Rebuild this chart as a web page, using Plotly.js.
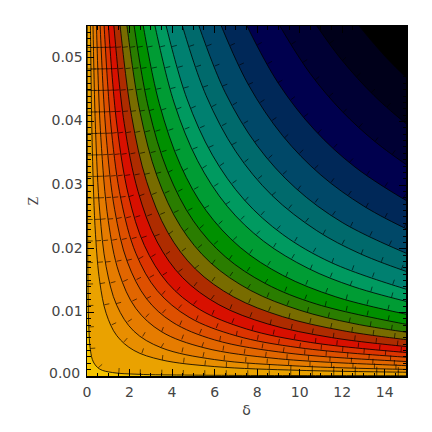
<!DOCTYPE html>
<html>
<head>
<meta charset="utf-8">
<script src="https://cdn.plot.ly/plotly-3.0.1.min.js"></script>
<style>html,body{margin:0;padding:0;background:#fff}</style>
</head>
<body>
<div id="chart" style="width:432px;height:432px"></div>
<script>
// Contour lines, outermost (top right) to innermost (origin).
// Each list runs from just above the top edge to just beyond the right edge.
const deltaA=[12.35,12.8,14,15,15.6];
const zA=[.057,.055,.0503,.04695,.04514];
const deltaB=[10.43,10.81,12,13.5,15,15.6];
const zB=[.057,.055,.04957,.04406,.03965,.03813];
const deltaC=[8.751,9.069,10.5,12,13.5,15,15.6];
const zC=[.057,.055,.0475,.04157,.03695,.03325,.03197];
const deltaD=[7.26,7.524,9,10.7,12.6,15,15.6];
const zD=[.057,.055,.04598,.03867,.03284,.02759,.02653];
const deltaE=[6.093,6.315,7.6,9.2,11,13,15,15.6];
const zE=[.057,.055,.0457,.03775,.03157,.02672,.02315,.02226];
const deltaF=[5.081,5.265,6.5,8,9.8,12,15,15.6];
const zF=[.057,.055,.04455,.0362,.02955,.02413,.01931,.01856];
const deltaG=[4.33,4.487,5.6,7,8.7,10.8,12.8,15,15.6];
const zG=[.057,.055,.04407,.03526,.02837,.02285,.01928,.01645,.01582];
const deltaH=[3.591,3.722,4.7,5.9,7.4,9.2,11.5,15,15.6];
const zH=[.057,.055,.04355,.0347,.02766,.02225,.0178,.01365,.01312];
const deltaI=[3.086,3.198,4.1,5.2,6.6,8.3,10.4,12.5,15,15.6];
const zI=[.057,.055,.0429,.03383,.02665,.02119,.01691,.01407,.01173,.01128];
const deltaJ=[2.554,2.647,3.4,4.4,5.6,7.2,9.2,11.7,15,15.6];
const zJ=[.057,.055,.0428,.0331,.026,.02022,.01583,.01244,.00971,.00933];
const deltaK=[2.139,2.216,2.9,3.8,5,6.5,8.4,10.8,15,15.6];
const zK=[.057,.055,.042,.03208,.02438,.01875,.01451,.01129,.00813,.00781];
const deltaL=[1.814,1.88,2.5,3.3,4.4,5.8,7.7,10,12.5,15,15.6];
const zL=[.057,.055,.04136,.03133,.0235,.01783,.01343,.01034,.00827,.00689,.00663];
const deltaM=[1.504,1.558,2.1,2.8,3.8,5.1,6.9,9.2,12,15,15.6];
const zM=[.057,.055,.0408,.0306,.02255,.0168,.01242,.00932,.00714,.00571,.00549];
const deltaN=[1.219,1.264,1.75,2.4,3.3,4.5,6.2,8.5,11.5,15,15.6];
const zN=[.057,.055,.0397,.029,.02106,.01544,.01121,.00818,.00604,.00463,.00446];
const deltaO=[.972,1.007,1.4,1.95,2.7,3.8,5.3,7.5,10.5,15,15.6];
const zO=[.057,.055,.0396,.0284,.0205,.01458,.01045,.00739,.00528,.00369,.00355];
const deltaP=[.777,.805,1.15,1.6,2.3,3.3,4.8,7,10,15,15.6];
const zP=[.057,.055,.0385,.0277,.01926,.01342,.00923,.00633,.00443,.00295,.00284];
const deltaQ=[.596,.618,.9,1.3,1.9,2.8,4,6,9.5,15,15.6];
const zQ=[.057,.055,.0378,.02615,.0179,.01214,.0085,.00567,.00358,.00227,.00218];
const deltaR=[.428,.444,.65,1,1.5,2.3,3.5,5.5,9,15,15.6];
const zR=[.057,.055,.0375,.0244,.01627,.0106,.00697,.00444,.00271,.00163,.00156];
const deltaS=[.272,.282,.4,.6,.9,1.4,2.2,3.5,6,10,15,15.6];
const zS=[.057,.055,.03875,.0258,.0172,.0111,.00705,.00443,.00258,.00155,.00103,.00099];
const deltaT=[.1556,.1613,.25,.4,.6,.9,1.4,2.2,3.5,6,10,15,15.6];
const zT=[.057,.055,.0355,.0222,.0148,.00986,.00634,.00403,.00253,.00148,.00089,.00059,.00057];
const deltaU=[.0114,.0118,.02,.04,.08,.16,.3,.6,1.2,2.4,5,15,15.6];
const zU=[.057,.055,.0325,.01625,.0081,.0041,.0022,.00108,.00054,.00027,.00013,.000043,.000042];

const contourDeltas=[deltaA,deltaB,deltaC,deltaD,deltaE,deltaF,deltaG,deltaH,deltaI,deltaJ,deltaK,deltaL,deltaM,deltaN,deltaO,deltaP,deltaQ,deltaR,deltaS,deltaT,deltaU];
const contourZs=[zA,zB,zC,zD,zE,zF,zG,zH,zI,zJ,zK,zL,zM,zN,zO,zP,zQ,zR,zS,zT,zU];
// Band colour on the origin side of each contour.
const bandColors=['#00001a','#000034','#00004e','#002858','#004868','#006a6c','#008070','#009a60','#009c34','#009000','#2a7d00','#786c00','#ae2c00','#d81000','#dc3400','#de5000','#e26600','#e67c00','#e88e00','#eaa200','#f5c400'];

const xTickVals=[0,2,4,6,8,10,12,14];
const yTickVals=[0,0.01,0.02,0.03,0.04,0.05];
const yTickText=['','0.01','0.02','0.03','0.04','0.05'];

const plot={l:87,t:26,r:26,b:56,w:319,h:350};
const xMax=15, yMax=0.055, tickGap=21.5, tickLen=5;
const far={xHi:30,xLo:-15,yLo:-0.15,yHi:0.2};

const traces=[];
const px=x=>x/xMax*plot.w, py=y=>y/yMax*plot.h;
const tickX=[],tickY=[];
contourDeltas.forEach((xs,i)=>{
  const ys=contourZs[i];
  traces.push({
    type:'scatter',mode:'lines',hoverinfo:'skip',showlegend:false,
    x:xs.concat([far.xHi,far.xLo,far.xLo]),
    y:ys.concat([far.yLo,far.yLo,far.yHi]),
    fill:'toself',fillcolor:bandColors[i],
    line:{color:'#000',width:0.8,shape:'spline',smoothing:1}
  });
  // downhill ticks: walk the drawn contour in pixels, from the top edge
  let next=tickGap;
  let walked=0;
  for(let k=1;k<xs.length-2;k++){
    const ax=px(xs[k]),ay=py(ys[k]),bx=px(xs[k+1]),by=py(ys[k+1]);
    const len=Math.hypot(bx-ax,by-ay);
    while(next<=walked+len){
      const f=(next-walked)/len;
      const mx=ax+(bx-ax)*f,my=ay+(by-ay)*f;
      const nx=-(by-ay)/len,ny=(bx-ax)/len;
      const sx=ny>=0?nx:-nx,sy=ny>=0?ny:-ny;
      tickX.push(mx/plot.w*xMax,(mx+sx*tickLen)/plot.w*xMax,null);
      tickY.push(my/plot.h*yMax,(my+sy*tickLen)/plot.h*yMax,null);
      next+=tickGap;
    }
    walked+=len;
  }
});
traces.push({type:'scatter',mode:'lines',hoverinfo:'skip',showlegend:false,
  x:tickX,y:tickY,line:{color:'#000',width:0.6}});

const font={family:'"DejaVu Sans",sans-serif',size:14,color:'#444'};
const layout={
  width:432,height:432,
  margin:{l:plot.l,t:plot.t,r:plot.r,b:plot.b,pad:0},
  paper_bgcolor:'#fff',plot_bgcolor:'#000',showlegend:false,
  xaxis:{range:[0,xMax],tickmode:'array',tickvals:xTickVals,ticktext:xTickVals.map(String),
    ticks:'inside',ticklen:7,tickwidth:1,tickcolor:'#000',ticklabelstandoff:3,
    minor:{dtick:0.5,ticks:'inside',ticklen:3.5,tickwidth:1,tickcolor:'#000'},
    showline:true,linecolor:'#000',linewidth:1.5,mirror:'allticks',showgrid:false,zeroline:false,
    tickfont:font,title:{text:'δ',font:{family:font.family,size:14,color:'#444'},standoff:6}},
  yaxis:{range:[0,yMax],tickmode:'array',tickvals:yTickVals,ticktext:yTickText,
    ticks:'inside',ticklen:7,tickwidth:1,tickcolor:'#000',ticklabelshift:-1,
    minor:{dtick:0.001,ticks:'inside',ticklen:3.5,tickwidth:1,tickcolor:'#000'},
    showline:true,linecolor:'#000',linewidth:1.5,mirror:'allticks',showgrid:false,zeroline:false,
    tickfont:font,title:{text:'Z',font:{family:'"DejaVu Serif",serif',size:12,color:'#444'},standoff:10}},
  annotations:[{text:'0.00',xref:'paper',yref:'paper',x:0,y:0,xanchor:'right',yanchor:'middle',
    xshift:-5,yshift:3,showarrow:false,font:font}]
};
Plotly.newPlot('chart',traces,layout,{staticPlot:true,displayModeBar:false});
</script>
</body>
</html>
